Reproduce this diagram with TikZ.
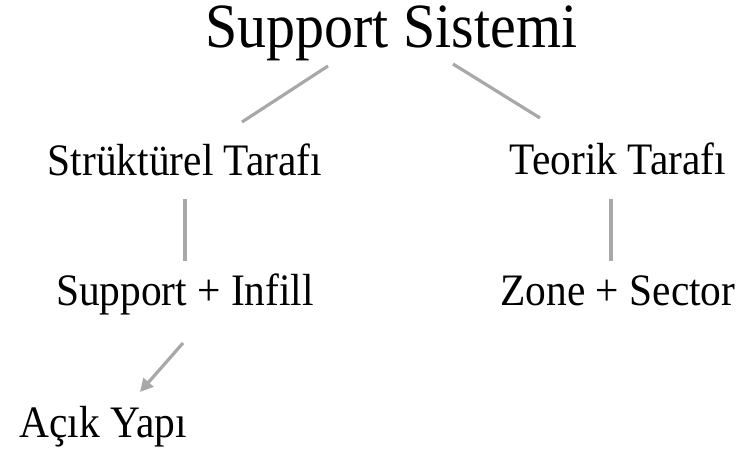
\documentclass[tikz,border=0pt]{standalone}
\usepackage{fontspec}
\setmainfont{Liberation Serif}[FakeStretch=0.92]
\usepackage{tikz}
\usetikzlibrary{positioning,calc,arrows.meta}
\usepackage{xcolor}
\definecolor{linegray}{RGB}{168,168,168}

\begin{document}
\begin{tikzpicture}[x=1pt,y=1pt,
  baslik/.style={inner sep=0pt,anchor=base,font=\fontsize{63}{70}\selectfont},
  dal/.style={inner sep=0pt,anchor=base,font=\fontsize{45}{50}\selectfont},
  link/.style={draw=linegray,line width=3.2pt},
  ok/.style={link,-{Triangle[length=13pt,width=13pt]}}]
  \useasboundingbox (0,0) rectangle (746,455);
  % dugumler
  \node[baslik] (title) at (391.5,407) {Support Sistemi};
  \node[dal] (strukturel) at (185,279) {Strüktürel Tarafı};
  \node[dal] (teorik) at (618,280) {Teorik Tarafı};
  \node[dal] (support) at (185,149) {Support + Infill};
  \node[dal] (zone) at (618,149) {Zone + Sector};
  \node[dal] (acik) at (103,18) {Açık Yapı};
  % baglantilar
  \draw[link] ([shift={(-63.5,-18)}]title.base) -- ([shift={(57,54)}]strukturel.base);
  \draw[link] ([shift={(61.5,-16)}]title.base) -- ([shift={(-78,57)}]teorik.base);
  \draw[link] ([yshift=-23]strukturel.base) -- ([yshift=45]support.base);
  \draw[link] ([shift={(-7,-24)}]teorik.base) -- ([shift={(-7,45)}]zone.base);
  \draw[ok] ([shift={(-2,-37)}]support.base) -- ([shift={(37,45)}]acik.base);
\end{tikzpicture}
\end{document}
